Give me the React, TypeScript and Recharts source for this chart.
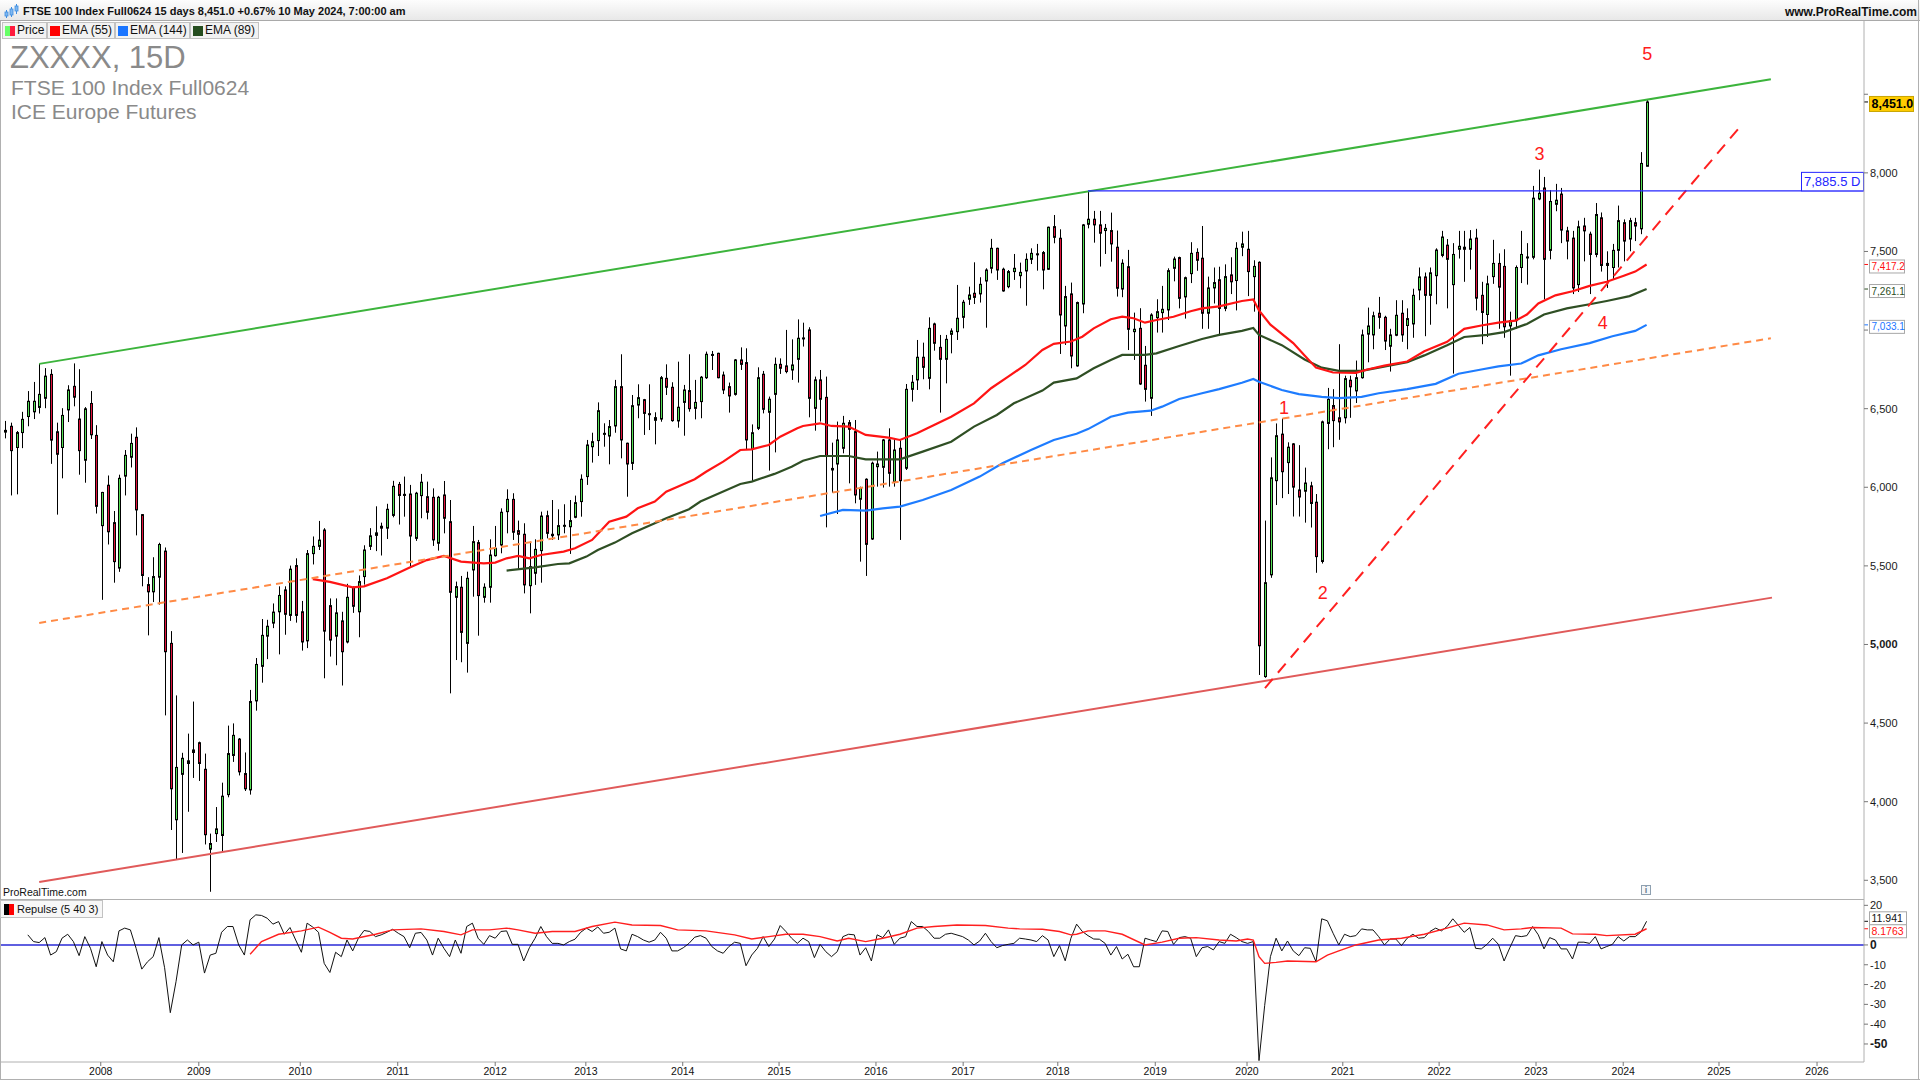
import React from 'react';
import { ComposedChart, Bar, Line, XAxis, YAxis, ReferenceLine, ReferenceDot } from 'recharts';

const FONT = '"Liberation Sans", Arial, Helvetica, sans-serif';

// ---------- price data (15-day bars, index 0..288) ----------
const opens = [
6351,6388,6253,6348,6450,6480,6508,6566,6718,6353,
6253,6492,6642,6434,6172,6533,6330,5756,6013,5775,
5486,6071,6191,6318,5826,5381,5335,5428,5594,5007,
3885,4174,4243,4313,4375,4206,3698,3797,3785,4045,
4294,4398,4179,4075,4641,4861,5053,5136,5208,5347,
5185,5502,5208,5023,5578,5624,5728,5247,5053,5150,
5016,5363,5208,5432,5624,5694,5752,5740,5821,6018,
5955,5957,5675,5947,5940,5936,5644,5951,5781,5300,
5364,5007,5474,5648,5300,5364,5565,5633,5845,5923,
5724,5701,5374,5453,5597,5819,5701,5697,5752,5749,
5809,5909,6068,6258,6297,6337,6326,6390,6640,6280,
6152,6523,6557,6468,6426,6434,6693,6636,6422,6540,
6615,6502,6545,6697,6840,6852,6714,6640,6591,6810,
6793,6244,6375,6719,6477,6591,6782,6772,6746,6814,
6945,7001,6502,6683,6572,6120,6148,6248,6411,6354,
5924,6051,5671,6131,6127,6301,6036,6248,6121,6623,
6683,6827,6693,7039,6890,6814,6973,6990,7081,7196,
7234,7230,7312,7393,7520,7387,7276,7372,7346,7376,
7450,7485,7493,7387,7658,7584,7026,7230,6772,7166,
7673,7705,7669,7633,7633,7527,7261,7403,6990,7011,
6776,6566,7079,7111,7128,7393,7461,7211,7359,7494,
7457,7107,7268,7320,7138,7351,7315,7527,7514,7340,
7431,4796,5443,6042,6338,6157,6276,5983,5975,6009,
5905,5528,6406,6520,6442,6442,6681,6613,6697,6974,
6969,7107,7081,6897,6967,7107,7029,7039,7255,7338,
7221,7346,7475,7540,7289,7514,7527,7514,7585,7221,
7099,7340,7424,7405,7026,7060,7398,7462,7463,7834,
7904,7507,7800,7865,7631,7585,7289,7662,7610,7481,
7714,7424,7398,7507,7683,7579,7683,7644,8042];

const highs = [
6422,6411,6358,6480,6612,6670,6785,6758,6751,6411,
6503,6649,6788,6751,6510,6612,6395,5971,6075,5849,
6080,6237,6341,6381,5830,5428,5555,5647,5617,5085,
4676,4311,4433,4637,4382,4306,3797,3966,4121,4484,
4498,4405,4313,4711,4914,5162,5157,5261,5370,5370,
5502,5548,5277,5601,5687,5786,5740,5293,5293,5208,
5386,5370,5439,5631,5740,5879,5775,5895,6041,6034,
6068,6015,5971,6085,6036,5993,5945,6040,5919,5400,
5436,5463,5754,5665,5389,5669,5754,5866,5987,5962,
5788,5771,5654,5669,5845,5851,5919,5860,5892,5919,
5947,6082,6301,6347,6540,6407,6428,6683,6846,6284,
6587,6655,6562,6655,6477,6708,6782,6668,6799,6651,
6846,6683,6708,6863,6867,6856,6736,6666,6816,6890,
6884,6400,6763,6740,6577,6825,6820,7001,6941,7068,
7047,7018,6704,6746,6704,6284,6418,6454,6428,6428,
6004,6057,6163,6227,6307,6375,6312,6301,6657,6714,
6937,6920,7081,7047,6969,6969,7011,7287,7192,7276,
7431,7336,7393,7580,7524,7397,7382,7484,7429,7488,
7520,7548,7503,7658,7732,7641,7281,7302,7181,7675,
7885.5,7758,7758,7675,7747,7633,7450,7510,7111,7139,
6899,7107,7196,7281,7393,7467,7467,7340,7559,7520,
7662,7340,7398,7403,7418,7463,7559,7626,7631,7444,
7437,5788,6190,6406,6437,6286,6281,6268,6125,6035,
5957,6424,6632,6624,6910,6710,6710,6806,7003,7143,
7117,7211,7091,7008,7190,7190,7138,7263,7398,7366,
7398,7520,7631,7579,7553,7631,7631,7636,7644,7307,
7346,7574,7488,7514,7117,7411,7631,7553,7917,8021,
7974,7891,7930,7904,7657,7631,7696,7714,7626,7808,
7748,7501,7548,7792,7704,7714,7714,8132,8467];

const lows = [
6311,5948,5955,6249,6388,6434,6469,6503,6149,5826,
6057,6415,6515,6080,6029,6307,5833,5284,5636,5393,
5462,5948,6126,5694,5370,5058,5270,5254,4549,3820,
3635,3674,3936,4151,4132,3728,3427,3744,3681,4028,
4253,4167,4068,4045,4579,4757,4907,5104,4937,5062,
5150,5139,4961,4977,5509,5601,4785,4923,4868,4739,
5007,5201,5046,5381,5601,5594,5566,5671,5809,5763,
5813,5495,5659,5803,5796,5627,5597,5707,4689,4901,
4887,4821,5304,5056,5266,5266,5559,5580,5707,5665,
5474,5325,5198,5379,5393,5675,5665,5665,5707,5576,
5803,5813,6015,6157,6199,6258,6146,6347,6184,5940,
6110,6439,6333,6364,6273,6417,6587,6417,6379,6328,
6481,6432,6439,6689,6746,6693,6593,6475,6583,6746,
6237,6036,6364,6470,6106,6222,6721,6725,6683,6666,
6895,6445,6360,6418,5745,5966,5830,6216,6025,5898,
5527,5436,5665,6004,5998,6004,6004,5665,6110,6545,
6619,6687,6623,6869,6475,6661,6852,6937,7011,7160,
7166,7175,7015,7361,7319,7244,7266,7319,7266,7155,
7420,7378,7259,7382,7552,6848,6905,6757,6767,7107,
7647,7556,7404,7484,7435,7213,7209,6873,6810,6651,
6545,6454,6984,6984,7064,7310,7138,7073,7299,7377,
7008,7008,7169,6964,7120,7229,7125,7470,7216,7117,
4806,4788,5424,5887,5931,5957,5814,5814,5775,5744,
5456,5515,6242,6255,6302,6406,6442,6536,6691,6795,
6878,7008,6873,6736,6961,6925,6878,6951,7190,6961,
7034,7164,7463,7138,6723,7455,7307,7385,7125,6910,
6956,7294,7008,6951,6710,7008,7299,7289,7450,7826,
7195,7450,7756,7553,7450,7229,7242,7437,7229,7463,
7372,7268,7320,7398,7437,7501,7566,7610,8042];

const closes = [
6362,6233,6348,6432,6547,6547,6591,6707,6300,6210,
6457,6619,6573,6233,6499,6334,5879,5967,5717,5527,
6057,6203,6279,5856,5439,5335,5432,5636,4954,4082,
4218,4276,4260,4329,4243,3790,3734,3827,4035,4306,
4422,4190,4082,4637,4873,5058,5116,5206,5312,5192,
5479,5185,5016,5578,5624,5664,5085,5028,5201,4954,
5300,5243,5400,5601,5691,5710,5740,5860,6006,5948,
5948,5690,5962,6032,5841,5665,5936,5803,5332,5368,
5077,5421,5654,5311,5364,5569,5612,5841,5923,5714,
5701,5379,5495,5605,5817,5707,5692,5756,5758,5788,
5902,6051,6269,6290,6487,6343,6386,6640,6301,6148,
6519,6570,6470,6464,6443,6697,6636,6424,6509,6619,
6500,6540,6700,6846,6845,6697,6619,6581,6810,6782,
6301,6347,6697,6496,6560,6782,6757,6736,6778,6948,
6950,6566,6683,6560,6199,6110,6301,6407,6369,5951,
5993,5637,6153,6148,6301,6089,6237,6042,6623,6668,
6827,6763,7011,6916,6814,6941,6994,7075,7177,7223,
7208,7291,7382,7520,7382,7249,7372,7393,7367,7450,
7488,7480,7382,7654,7590,7096,7213,6835,7175,7669,
7705,7669,7616,7647,7548,7266,7425,7005,7005,6657,
6623,7096,7117,7132,7378,7452,7202,7333,7488,7444,
7107,7268,7302,7138,7340,7307,7520,7548,7372,7405,
4992,5393,6060,6328,6099,6255,6001,5938,6027,5897,
5559,6416,6559,6424,6416,6691,6639,6697,6969,7026,
7091,7081,6930,6969,7094,6969,7073,7221,7338,7221,
7364,7509,7592,7450,7481,7533,7514,7579,7203,7112,
7294,7424,7273,7021,7060,7398,7481,7465,7839,7870,
7450,7818,7826,7636,7566,7268,7657,7631,7481,7735,
7411,7411,7507,7696,7566,7696,7662,8060,8451];

// ---------- moving averages (read at sample bars) ----------
const ema55Idx = [54,57,61,63,67,71,74,77,80,84,86,88,90,92,94,98,100,103,106,109,111,114,116,118,121,123,126,129,131,134,136,139,140,143,145,148,151,155,157,160,163,166,170,173,176,179,182,184,187,189,191,194,196,198,200,202,205,208,210,213,217,219,220,222,226,228,230,233,237,239,242,246,249,253,256,259,262,265,267,269,272,275,278,281,284,286,288];
const ema55Val = [5416,5398,5363,5370,5421,5489,5537,5563,5527,5516,5521,5548,5563,5548,5569,5591,5612,5665,5781,5813,5866,5909,5972,6004,6051,6099,6163,6237,6241,6269,6322,6375,6390,6407,6390,6386,6333,6316,6301,6343,6396,6449,6534,6630,6704,6778,6873,6912,6927,6958,7011,7069,7085,7075,7047,7064,7085,7120,7138,7151,7185,7195,7125,7034,6917,6839,6761,6730,6728,6749,6774,6800,6865,6925,7008,7029,7047,7060,7099,7169,7221,7247,7281,7307,7346,7372,7417.2];

const ema89Idx = [88,93,97,99,102,104,107,110,114,116,120,122,125,129,131,135,138,140,143,148,151,157,161,166,170,174,177,182,184,188,191,194,196,200,202,206,210,213,217,219,220,224,228,231,234,238,241,246,249,253,256,260,263,267,270,274,278,281,285,288];
const ema89Val = [5470,5491,5512,5516,5559,5601,5648,5707,5771,5803,5860,5909,5957,6021,6036,6085,6130,6169,6199,6199,6178,6178,6227,6290,6386,6460,6534,6615,6666,6693,6757,6810,6842,6842,6852,6899,6943,6969,6995,7013,6969,6904,6813,6761,6741,6741,6761,6795,6839,6904,6956,6969,6987,7039,7099,7138,7164,7185,7216,7261.1];

const ema144Idx = [143,147,151,154,157,161,166,171,175,180,184,188,190,194,197,201,203,206,210,213,217,219,220,224,227,231,234,238,241,246,251,255,259,262,266,269,273,278,282,286,288];
const ema144Val = [5817,5856,5851,5866,5877,5919,5983,6068,6153,6237,6301,6340,6370,6449,6475,6487,6513,6562,6598,6624,6665,6689,6671,6619,6593,6575,6567,6575,6598,6624,6658,6722,6749,6769,6787,6839,6878,6917,6961,6995,7033.1];

// ---------- Repulse (5 40 3) ----------
const repulseStartA = 4;
const repulseA = [
5.1,1.7,1.2,3.7,-5.1,-3.4,3.4,5.4,1.7,-5.4,
4.2,-1.7,-11.0,1.7,-5.1,-8.5,7.1,8.5,7.6,-1.7,
-12.2,-8.5,-5.9,3.7,-11.5,-34.2,-18.6,0,2.5,0,
1.4,-14.2,-5.1,-4.2,6.4,9.3,9.3,0,-5.1,12.7,
15.2,14.9,13.5,10.5,11.8,5.4,8.8,2.5,-3.7,11.0,
9.0,6.4,-9.3,-13.9,-3.7,-5.9,2.5,-3.0,3.4,7.3,
6.8,4.2,5.1,6.4,7.9,5.9,4.2,-1.4,5.9,6.3,
2.5,-5.1,3.4,-1.7,-5.9,2.5,-4.2,9.3,11.0,3.4,
0.3,4.7,3.4,6.8,7.1,0.3,0.3,-8.1,-1.4,3.4,
9.3,4.2,0.8,0.8,0,1.7,2.9,6.4,8.5,6.8,
9.1,5.9,6.4,8.5,-2.0,-3.0,5.4,4.2,2.5,1.4,
2.5,6.4,3.4,-3.0,-3.0,-1.4,0.8,3.9,4.7,3.4,
-0.8,-3.0,-4.2,-0.8,1.4,0.8,-10.5,-5.1,-1.7,4.2,
-0.8,3.0,9.8,6.8,3.4,0.8,3.4,1.7,-6.4,0.3,
-3.4,-5.9,-3.4,4.2,5.4,5.1,-5.1,-1.4,-8.1,5.1,
3.7,7.6,0.3,3.4,4.2,11.8,9.3,9.3,6.8,3.4,
3.4,5.4,5.9];
const repulseStartB = 168;
const repulseB = [
4.2,2.5,0,2.0,5.9,1.7,-1.4,-0.3,0.3,0.8,
3.4,3.0,2.5,1.7,4.7,2.5,-5.9,-0.3,-8.0,3.4,
10.5,6.8,4.7,3.0,2.9,0.8,-5.1,-0.8,-7.1,-4.7,
-11.0,-11.0,3.4,2.5,1.7,7.1,6.8,0.3,3.7,4.2,
3.4,-5.9,-1.4,-0.8,-2.5,1.7,0.8,5.4,3.7,1.7,
0.8,1.7,-58.4,-30.5,-5.9,3.4,-3.0,2.0,-3.0,-5.4,
-1.4,-1.7,-8.5,13.2,12.2,5.9,0,5.4,4.2,4.7,
8.1,7.6,7.6,4.2,0,3.0,3.0,-0.3,3.4,5.4,
3.4,3.7,6.8,8.5,7.1,9.3,13.2,9.8,6.4,8.8,
-1.7,-2.0,0.3,3.4,0.3,-8.1,-1.4,4.7,4.2,4.7,
9.3,5.1,-2.0,3.7,2.5,-2.0,-2.0,-7.1,1.4,1.4,
0.8,4.2,-2.0,-0.8,0.3,4.2,2.0,4.2,4.2,6.5,11.941];
const repSignalIdx = [43,45,48,52,55,57,59,61,65,68,73,77,80,82,85,88,90,93,96,100,103,107,110,115,118,123,128,131,134,137,140,143,146,148,151,154,157,160,163,167,172,176,178,182,185,187,188,190,193,196,200,203,206,209,213,216,218,219,220,221,223,225,230,232,234,237,241,245,249,253,256,260,263,266,268,273,275,279,281,286,288];
const repSignalVal = [-4.7,1.7,5.4,7.1,9.0,6.4,3.4,3.0,5.4,7.6,8.1,6.8,5.1,7.6,7.6,8.5,7.6,5.9,6.8,6.8,9.3,11.5,10.1,9.8,7.6,7.1,5.1,3.0,4.2,5.4,5.4,4.2,2.0,3.4,1.7,3.4,5.4,8.5,9.3,10.1,9.8,8.5,8.1,7.9,6.8,5.1,5.4,7.1,7.1,5.4,0,1.4,3.4,3.7,2.5,2.0,3.0,2.5,-5.9,-9.3,-8.8,-8.1,-8.5,-5.1,-3.0,0,2.5,3.4,5.4,8.5,11.0,10.1,7.6,8.1,8.8,8.5,5.6,5.4,4.7,5.4,8.1763];

// ---------- axes ----------
const yearTickIdx = [16.8,34.0,51.8,68.9,86.0,101.9,118.9,135.8,152.8,168.1,184.7,201.8,217.9,234.7,251.6,268.6,283.9,300.7,317.9];
const yearLabels = ['2008','2009','2010','2011','2012','2013','2014','2015','2016','2017','2018','2019','2020','2021','2022','2023','2024','2025','2026'];
const priceTicks = [3500,4000,4500,5000,5500,6000,6500,7000,7500,8000,8500];
const repTicks = [20,0,-10,-20,-30,-40,-50];
const X_DOMAIN = [-0.877, 326.14];
const PRICE_DOMAIN = [3381, 8966];
const REP_DOMAIN = [-59.1, 23.2];

// ---------- drawn objects (data coordinates) ----------
const upperChannel = [{ x: 6.0, y: 6785 }, { x: 309.8, y: 8595 }];
const lowerChannel = [{ x: 6.0, y: 3489 }, { x: 310.0, y: 5298 }];
const midDashed = [{ x: 6.0, y: 5137 }, { x: 309.8, y: 6948 }];
const waveTrend = [{ x: 221.05, y: 4723 }, { x: 304.8, y: 8311 }];
const resistance = [{ x: 190, y: 7885.5 }, { x: 326.14, y: 7885.5 }];
const waveLabels = ['1', '2', '3', '4', '5'];
const waveIdx = [224.4, 231.2, 269.2, 280.3, 288.1];
const wavePrice = [6502, 5328, 8117, 7042, 8756];

const GREEN = '#55e055';
const RED = '#e0123c';

const priceRows: any[] = opens.map((o, i) => ({
  i, o, h: highs[i], l: lows[i], c: closes[i], e55: null, e89: null, e144: null,
}));
ema55Idx.forEach((k, j) => { priceRows[k].e55 = ema55Val[j]; });
ema89Idx.forEach((k, j) => { priceRows[k].e89 = ema89Val[j]; });
ema144Idx.forEach((k, j) => { priceRows[k].e144 = ema144Val[j]; });

const repRows: any[] = opens.map((_, i) => ({ i, rb: null, rs: null }));
repulseA.forEach((v, j) => { repRows[repulseStartA + j].rb = v; });
repulseB.forEach((v, j) => { repRows[repulseStartB + j].rb = v; });
repSignalIdx.forEach((k, j) => { repRows[k].rs = repSignalVal[j]; });

const Candle = (props: any) => {
  const { x, y, width, height, payload } = props;
  if (!payload || x == null || y == null) return null;
  const { o, h, l, c } = payload;
  const top = Math.min(y, y + height);
  const hh = Math.abs(height);
  const range = h - l || 1;
  const py = (v: number) => top + ((h - v) / range) * hh;
  const cx = Math.round(x + width / 2);
  const up = c >= o;
  const bt = py(Math.max(o, c));
  const bb = py(Math.min(o, c));
  const bh = Math.max(bb - bt, 1);
  return (
    <g>
      <line x1={cx + 0.5} x2={cx + 0.5} y1={top} y2={top + hh} stroke="#000" strokeWidth={1} />
      <rect x={cx - 0.5} y={bt} width={2} height={bh} fill={up ? GREEN : RED} stroke="#000" strokeWidth={1} />
    </g>
  );
};

const PriceTick = (props: any) => {
  const { x, y, payload } = props;
  const v = payload.value;
  if (v === 8500 || v === 7000) return null;
  return (
    <text x={x} y={y + 4} fontSize={11} fontFamily={FONT} fill="#1a1a1a" fontWeight={v === 5000 ? 'bold' : 'normal'}>
      {v.toLocaleString('en-US')}
    </text>
  );
};

const RepTick = (props: any) => {
  const { x, y, payload } = props;
  const v = payload.value;
  const bold = v === 0 || v === -50;
  return (
    <text x={x} y={y + 4} fontSize={bold ? 12 : 11} fontFamily={FONT} fill="#1a1a1a" fontWeight={bold ? 'bold' : 'normal'}>
      {String(v)}
    </text>
  );
};

const makeAxisBox = (text: string, o: any) => (props: any) => {
  const vb = props.viewBox;
  if (!vb) return null;
  const xr = vb.x + vb.width;
  const y0 = vb.y;
  const yc = y0 + (o.dy || 0);
  return (
    <g>
      <line x1={xr} x2={xr + 4} y1={y0} y2={y0} stroke={o.tick} strokeWidth={1} />
      <rect x={xr + 5.5} y={yc - o.h / 2} width={o.w} height={o.h} fill={o.bg} stroke={o.border} strokeWidth={1} />
      <text x={xr + 7.5} y={yc + o.fs * 0.36} fontSize={o.fs} fontFamily={FONT} fontWeight={o.bold ? 'bold' : 'normal'} fill={o.color}>
        {text}
      </text>
    </g>
  );
};

const LastPriceBox = makeAxisBox('8,451.0', { w: 44, h: 15, fs: 12.5, bold: true, color: '#000', bg: '#ffcc00', border: '#c9a400', tick: '#000', dy: 2 });
const Ema55Box = makeAxisBox('7,417.2', { w: 35, h: 13, fs: 10, color: '#ff1010', bg: '#fff', border: '#a8a8a8', tick: '#ff1010', dy: 2 });
const Ema89Box = makeAxisBox('7,261.1', { w: 35, h: 13, fs: 10, color: '#2b4d22', bg: '#fff', border: '#a8a8a8', tick: '#2b4d22', dy: 2 });
const Ema144Box = makeAxisBox('7,033.1', { w: 35, h: 13, fs: 10, color: '#1a75ff', bg: '#fff', border: '#a8a8a8', tick: '#1a75ff', dy: 2 });
const RepBox = makeAxisBox('11.941', { w: 37, h: 13, fs: 10.5, color: '#111', bg: '#fff', border: '#a8a8a8', tick: '#111', dy: -3 });
const SigBox = makeAxisBox('8.1763', { w: 37, h: 13, fs: 10.5, color: '#ff1010', bg: '#fff', border: '#a8a8a8', tick: '#ff1010', dy: 2.5 });

const ResistanceBox = (props: any) => {
  const vb = props.viewBox;
  if (!vb) return null;
  const xr = vb.x + vb.width;
  const y = vb.y;
  return (
    <g>
      <rect x={xr - 62.5} y={y - 18.5} width={62} height={18.5} fill="#fff" stroke="#2424ff" strokeWidth={1} />
      <text x={xr - 60} y={y - 4.5} fontSize={13} fontFamily={FONT} fill="#2424ff">7,885.5 D</text>
    </g>
  );
};

const legendItems = [
  { label: 'Price', left: 2, width: 45, c1: '#66ff66', c2: '#ff1a3d' },
  { label: 'EMA (55)', left: 47, width: 68, c1: '#ff0000', c2: '#ff0000' },
  { label: 'EMA (144)', left: 115, width: 75, c1: '#1a75ff', c2: '#1a75ff' },
  { label: 'EMA (89)', left: 190, width: 69, c1: '#254d1f', c2: '#254d1f' },
];

export default function App() {
  return (
    <div style={{ position: 'absolute', left: 0, top: 0, width: 1920, height: 1080, background: '#fff', overflow: 'hidden', fontFamily: FONT }}>
      {/* header bar */}
      <div style={{ position: 'absolute', left: 0, top: 0, width: 1920, height: 21, boxSizing: 'border-box', borderBottom: '1px solid #a9a9a9', background: 'linear-gradient(#fdfdfd,#e8e8e8)' }} />
      <svg style={{ position: 'absolute', left: 4, top: 4 }} width={16} height={15}>
        <line x1={2.5} x2={2.5} y1={6} y2={14} stroke="#3d8de0" />
        <rect x={1} y={8} width={3} height={4} fill="#7fb8f0" stroke="#3d8de0" strokeWidth={0.8} />
        <line x1={7.5} x2={7.5} y1={3} y2={13} stroke="#3d8de0" />
        <rect x={6} y={5} width={3} height={6} fill="#7fb8f0" stroke="#3d8de0" strokeWidth={0.8} />
        <line x1={12.5} x2={12.5} y1={0} y2={10} stroke="#3d8de0" />
        <rect x={11} y={2} width={3} height={5} fill="#7fb8f0" stroke="#3d8de0" strokeWidth={0.8} />
      </svg>
      <div style={{ position: 'absolute', left: 23, top: 5, fontSize: 11, fontWeight: 'bold', color: '#111', lineHeight: '13px', whiteSpace: 'nowrap' }}>
        FTSE 100 Index Full0624 15 days 8,451.0 +0.67% 10 May 2024, 7:00:00 am
      </div>
      <div style={{ position: 'absolute', right: 3, top: 5, fontSize: 12, fontWeight: 'bold', color: '#111', lineHeight: '14px', whiteSpace: 'nowrap' }}>
        www.ProRealTime.com
      </div>

      {/* price panel */}
      <div style={{ position: 'absolute', left: 0, top: 0 }}>
        <ComposedChart width={1920} height={900} data={priceRows} margin={{ top: 21, right: 0, bottom: 1, left: 0 }} barGap={0}>
          <XAxis dataKey="i" type="number" domain={X_DOMAIN} allowDataOverflow hide />
          <YAxis orientation="right" width={56} domain={PRICE_DOMAIN} allowDataOverflow ticks={priceTicks} interval={0}
            tick={(p: any) => <PriceTick {...p} />} tickSize={4} axisLine={{ stroke: '#b0b0b0' }} tickLine={{ stroke: '#777' }} />
          <Bar dataKey={(d: any) => [d.l, d.h]} shape={(p: any) => <Candle {...p} />} isAnimationActive={false} />
          <Line dataKey="e144" stroke="#1e7cff" strokeWidth={2.2} dot={false} connectNulls isAnimationActive={false} />
          <Line dataKey="e89" stroke="#2f4f24" strokeWidth={2.2} dot={false} connectNulls isAnimationActive={false} />
          <Line dataKey="e55" stroke="#ff1414" strokeWidth={2.2} dot={false} connectNulls isAnimationActive={false} />
          <ReferenceLine segment={upperChannel} stroke="#3cb43c" strokeWidth={2} ifOverflow="visible" />
          <ReferenceLine segment={lowerChannel} stroke="#e05a5a" strokeWidth={2} ifOverflow="visible" />
          <ReferenceLine segment={midDashed} stroke="#ff8a45" strokeWidth={2} strokeDasharray="7 5" ifOverflow="visible" />
          <ReferenceLine segment={waveTrend} stroke="#ff2020" strokeWidth={2} strokeDasharray="12 8" ifOverflow="visible" />
          <ReferenceLine segment={resistance} stroke="#2424ff" strokeWidth={1.2} ifOverflow="visible" label={(p: any) => <ResistanceBox {...p} />} />
          {waveLabels.map((lab, k) => (
            <ReferenceDot key={lab} x={waveIdx[k]} y={wavePrice[k]} r={0} ifOverflow="visible"
              shape={(p: any) => (
                <text x={p.cx} y={p.cy + 6} textAnchor="middle" fontSize={18} fontFamily={FONT} fill="#ff1c1c">{lab}</text>
              )} />
          ))}
          <ReferenceLine y={8451} stroke="none" ifOverflow="visible" label={(p: any) => <LastPriceBox {...p} />} />
          <ReferenceLine y={7417.2} stroke="none" ifOverflow="visible" label={(p: any) => <Ema55Box {...p} />} />
          <ReferenceLine y={7261.1} stroke="none" ifOverflow="visible" label={(p: any) => <Ema89Box {...p} />} />
          <ReferenceLine y={7033.1} stroke="none" ifOverflow="visible" label={(p: any) => <Ema144Box {...p} />} />
        </ComposedChart>
      </div>

      {/* repulse panel */}
      <div style={{ position: 'absolute', left: 0, top: 899 }}>
        <ComposedChart width={1920} height={181} data={repRows} margin={{ top: 0, right: 0, bottom: 0, left: 0 }}>
          <XAxis dataKey="i" type="number" domain={X_DOMAIN} allowDataOverflow ticks={yearTickIdx} interval={0} height={18}
            tickFormatter={(v: number) => yearLabels[yearTickIdx.indexOf(v)] || ''}
            tick={{ fontSize: 10.5, fill: '#111', fontFamily: FONT }} tickSize={4}
            axisLine={{ stroke: '#b0b0b0' }} tickLine={{ stroke: '#777' }} />
          <YAxis orientation="right" width={56} domain={REP_DOMAIN} allowDataOverflow ticks={repTicks} interval={0}
            tick={(p: any) => <RepTick {...p} />} tickSize={4} axisLine={{ stroke: '#b0b0b0' }} tickLine={{ stroke: '#777' }} />
          <ReferenceLine y={0} stroke="#2a2ad6" strokeWidth={1.5} />
          <Line dataKey="rb" stroke="#111" strokeWidth={1} dot={false} connectNulls isAnimationActive={false} />
          <Line dataKey="rs" stroke="#ff1f1f" strokeWidth={1.4} dot={false} connectNulls isAnimationActive={false} />
          <ReferenceLine y={11.941} stroke="none" ifOverflow="visible" label={(p: any) => <RepBox {...p} />} />
          <ReferenceLine y={8.1763} stroke="none" ifOverflow="visible" label={(p: any) => <SigBox {...p} />} />
        </ComposedChart>
      </div>

      {/* legend boxes */}
      {legendItems.map((it) => (
        <div key={it.label} style={{ position: 'absolute', left: it.left, top: 22, width: it.width, height: 17, boxSizing: 'border-box', border: '1px solid #c2c2c2', background: '#f2f2f2' }}>
          <div style={{ position: 'absolute', left: 2, top: 3, width: 5, height: 10, background: it.c1 }} />
          <div style={{ position: 'absolute', left: 7, top: 3, width: 5, height: 10, background: it.c2 }} />
          <div style={{ position: 'absolute', left: 14, top: 0, fontSize: 12, lineHeight: '15px', color: '#111', whiteSpace: 'nowrap' }}>{it.label}</div>
        </div>
      ))}

      {/* title */}
      <div style={{ position: 'absolute', left: 10, top: 42, fontSize: 31, lineHeight: '31px', color: '#8a8a8a', whiteSpace: 'nowrap' }}>ZXXXX, 15D</div>
      <div style={{ position: 'absolute', left: 11, top: 76.5, fontSize: 21, lineHeight: '21px', color: '#8a8a8a', whiteSpace: 'nowrap' }}>FTSE 100 Index Full0624</div>
      <div style={{ position: 'absolute', left: 11, top: 100.5, fontSize: 21, lineHeight: '21px', color: '#8a8a8a', whiteSpace: 'nowrap' }}>ICE Europe Futures</div>

      {/* panel separators and frame */}
      <div style={{ position: 'absolute', left: 0, top: 899, width: 1864, height: 1, background: '#b0b0b0' }} />
      <div style={{ position: 'absolute', left: 0, top: 21, width: 1, height: 1059, background: '#b0b0b0' }} />
      <div style={{ position: 'absolute', left: 1918, top: 0, width: 1, height: 1080, background: '#b0b0b0' }} />
      <div style={{ position: 'absolute', left: 0, top: 1079, width: 1920, height: 1, background: '#b0b0b0' }} />

      <div style={{ position: 'absolute', left: 3, top: 887, fontSize: 10.5, lineHeight: '11px', color: '#111', whiteSpace: 'nowrap' }}>ProRealTime.com</div>
      <div style={{ position: 'absolute', left: 1641, top: 885, width: 10, height: 10, boxSizing: 'border-box', border: '1px solid #8ea0b0', background: '#f4f6f8', fontSize: 9, lineHeight: '8px', textAlign: 'center', color: '#6a7f92', fontWeight: 'bold' }}>i</div>

      {/* repulse legend */}
      <div style={{ position: 'absolute', left: 0, top: 900, width: 103, height: 18, boxSizing: 'border-box', border: '1px solid #c2c2c2', background: '#f7f7f7' }}>
        <div style={{ position: 'absolute', left: 3, top: 3, width: 5, height: 11, background: '#000' }} />
        <div style={{ position: 'absolute', left: 8, top: 3, width: 5, height: 11, background: '#ff0000' }} />
        <div style={{ position: 'absolute', left: 16, top: 1, fontSize: 11, lineHeight: '14px', color: '#111', whiteSpace: 'nowrap' }}>Repulse (5 40 3)</div>
      </div>
    </div>
  );
}
